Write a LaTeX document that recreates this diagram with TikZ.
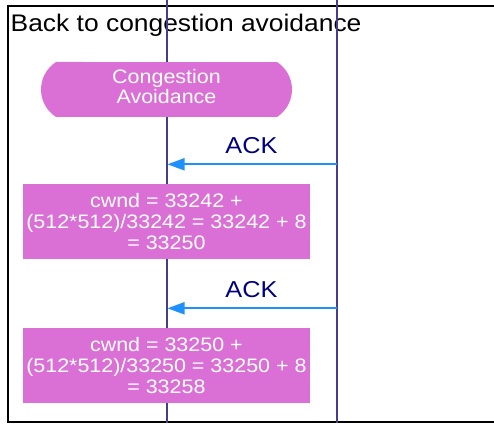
\documentclass[tikz,border=0pt]{standalone}
\usepackage{fontspec}
\newfontfamily\af[FakeStretch=1.1]{Liberation Sans}
\usetikzlibrary{arrows.meta}
\definecolor{orchidc}{HTML}{DA70D6}
\definecolor{lifec}{HTML}{483D8B}
\definecolor{arrowc}{HTML}{1E90FF}
\definecolor{ackc}{HTML}{000080}
\tikzset{
  lifeline/.style={draw=lifec, line width=2pt},
  framebox/.style={draw=black, line width=2pt},
  calcbox/.style={fill=orchidc, text=white, align=center, inner sep=0pt,
    minimum width=287.5pt, minimum height=75pt,
    font=\af\fontsize{19.5}{20.8}\selectfont},
  statetext/.style={text=white, align=center, inner sep=0pt,
    font=\af\fontsize{19.5}{20.7}\selectfont},
  msg/.style={draw=arrowc, line width=2pt, -{Triangle[length=17pt,width=12pt]}},
  msglabel/.style={text=ackc, anchor=base, inner sep=0pt,
    font=\af\fontsize{23}{27}\selectfont},
  titletext/.style={anchor=base west, inner sep=0pt,
    font=\af\fontsize{24}{28}\selectfont}
}
\begin{document}
\begin{tikzpicture}[x=1pt,y=1pt]
\useasboundingbox (0,0) rectangle (494,423);
\clip (0,0) rectangle (494,423);
% frame
\draw[framebox] (500,416.5) -- (7.5,416.5) -- (7.5,1.5) -- (500,1.5);
% title
\node[titletext] (title) at (10.5,391) {Back to congestion avoidance};
% lifelines
\coordinate (l1top) at (166.5,424);
\coordinate (l1bot) at (166.5,0);
\coordinate (l2top) at (336.5,424);
\coordinate (l2bot) at (336.5,0);
\draw[lifeline] (l1top) -- (l1bot);
\draw[lifeline] (l2top) -- (l2bot);
% congestion avoidance state
\fill[orchidc] (56,361) arc[start angle=122.8, end angle=237.2, radius=32.7pt]
  -- (277,306) arc[start angle=-57.2, end angle=57.2, radius=32.7pt] -- cycle;
\node[statetext] (ca) at (166.5,336.5) {Congestion\\Avoidance};
% first ACK
\coordinate (a1s) at (336.5,258.7);
\coordinate (a1e) at (167.5,258.7);
\draw[msg] (a1s) -- (a1e);
\node[msglabel] (ack1) at (251.5,269.7) {ACK};
\node[calcbox] (b1) at (166.4,201.3) {cwnd = 33242 +\\(512*512)/33242 = 33242 + 8\\= 33250};
% second ACK
\coordinate (a2s) at (336.5,114.7);
\coordinate (a2e) at (167.5,114.7);
\draw[msg] (a2s) -- (a2e);
\node[msglabel] (ack2) at (251.5,125.7) {ACK};
\node[calcbox] (b2) at (166.4,57.2) {cwnd = 33250 +\\(512*512)/33250 = 33250 + 8\\= 33258};
\end{tikzpicture}
\end{document}
